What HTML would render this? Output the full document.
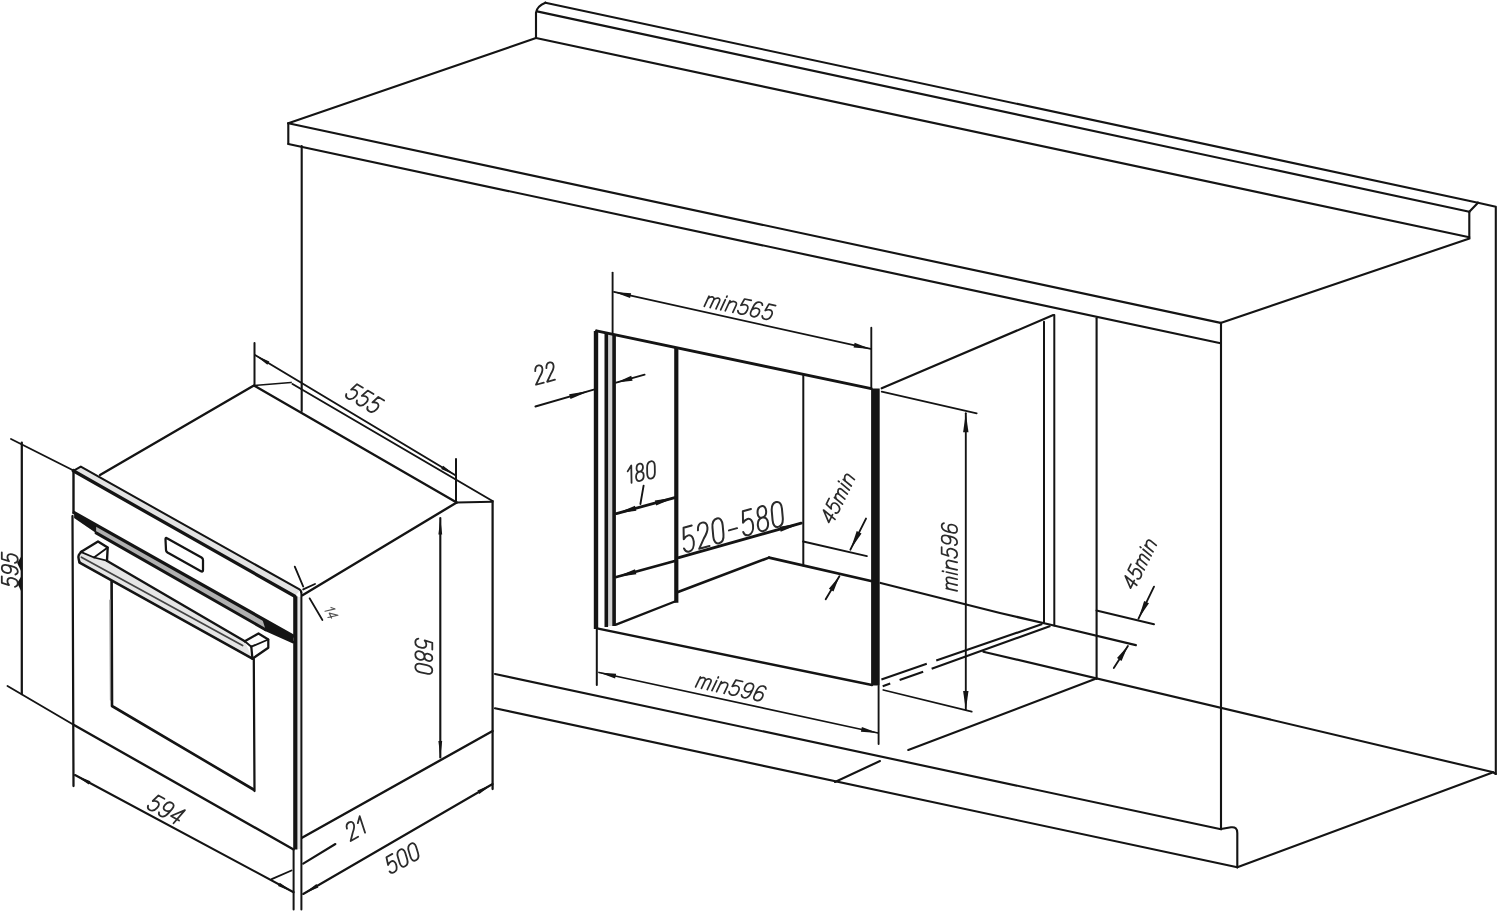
<!DOCTYPE html>
<html><head><meta charset="utf-8"><title>Built-in oven installation dimensions</title>
<style>
html,body{margin:0;padding:0;background:#fff;}
body{width:1500px;height:913px;overflow:hidden;font-family:"Liberation Sans",sans-serif;}
svg{display:block;filter:blur(0.65px);}
</style></head><body>
<svg width="1500" height="913" viewBox="0 0 1500 913" stroke-linecap="round" stroke-linejoin="round" font-family="Liberation Sans, sans-serif">
<line x1="545.4" y1="2.7" x2="1478" y2="202.7" stroke="#141414" stroke-width="2.12" />
<path d="M536 38 L536 12.7 Q537 6 545.4 2.7" stroke="#141414" stroke-width="2.12" fill="none" />
<line x1="537" y1="11.4" x2="1469.3" y2="211.7" stroke="#141414" stroke-width="2.12" />
<line x1="1469.3" y1="211.7" x2="1478" y2="202.7" stroke="#141414" stroke-width="2.12" />
<line x1="1469.3" y1="211.7" x2="1469.3" y2="237.3" stroke="#141414" stroke-width="2.12" />
<line x1="536" y1="38" x2="1469.3" y2="237.3" stroke="#141414" stroke-width="2.12" />
<path d="M1478 202.7 L1495.8 206.7 L1495.8 774" stroke="#141414" stroke-width="2.12" fill="none" />
<line x1="536" y1="38" x2="288.3" y2="123.3" stroke="#141414" stroke-width="2.12" />
<line x1="288.3" y1="123.3" x2="288.3" y2="144" stroke="#141414" stroke-width="2.12" />
<line x1="288.3" y1="123.3" x2="1220.6" y2="322.9" stroke="#141414" stroke-width="2.12" />
<line x1="288.3" y1="144" x2="1220.6" y2="343.2" stroke="#141414" stroke-width="2.12" />
<line x1="1220.6" y1="322.9" x2="1469.5" y2="238.5" stroke="#141414" stroke-width="2.12" />
<line x1="301.7" y1="146" x2="301.7" y2="411" stroke="#141414" stroke-width="2.12" />
<line x1="1221" y1="322.9" x2="1221" y2="829" stroke="#141414" stroke-width="2.12" />
<line x1="495" y1="674" x2="1221" y2="829.3" stroke="#141414" stroke-width="2.12" />
<line x1="495" y1="708.3" x2="1237.3" y2="867.3" stroke="#141414" stroke-width="2.12" />
<path d="M1221 829 L1231 827.3 Q1237.3 826.5 1237.3 833 L1237.3 867.3" stroke="#141414" stroke-width="2.12" fill="none" />
<path d="M1237.3 867.3 L1493.3 772.3 L1495.8 774" stroke="#141414" stroke-width="2.12" fill="none" />
<line x1="983.3" y1="651.7" x2="1493.3" y2="772.3" stroke="#141414" stroke-width="2.12" />
<line x1="1095" y1="679" x2="908.3" y2="750" stroke="#141414" stroke-width="2.12" />
<line x1="835" y1="782" x2="880" y2="761" stroke="#141414" stroke-width="2.0" />
<line x1="612.6" y1="272.6" x2="612.6" y2="333" stroke="#141414" stroke-width="1.88" />
<rect x="606" y="333" width="8.5" height="293" fill="#d2d2d2"/>
<line x1="596" y1="331" x2="596" y2="629" stroke="#141414" stroke-width="4.4" stroke-linecap="butt"/>
<line x1="606.3" y1="333" x2="606.3" y2="627" stroke="#141414" stroke-width="3.6" stroke-linecap="butt"/>
<line x1="614.1" y1="334" x2="614.1" y2="626" stroke="#141414" stroke-width="3.6" stroke-linecap="butt"/>
<line x1="596.5" y1="330.8" x2="871.3" y2="388.6" stroke="#141414" stroke-width="2.88" />
<line x1="871.3" y1="327.7" x2="871.3" y2="388" stroke="#141414" stroke-width="1.88" />
<line x1="875.4" y1="388.6" x2="875.4" y2="685.5" stroke="#141414" stroke-width="8.6" stroke-linecap="butt"/>
<line x1="881.7" y1="388.3" x2="1053.3" y2="315" stroke="#141414" stroke-width="2.12" />
<line x1="1044" y1="321.7" x2="1044" y2="623" stroke="#141414" stroke-width="2.0" />
<line x1="1054.3" y1="315" x2="1054.3" y2="625.5" stroke="#141414" stroke-width="2.0" />
<line x1="1096.6" y1="318.3" x2="1096.6" y2="679" stroke="#141414" stroke-width="2.12" />
<line x1="676.3" y1="347" x2="676.3" y2="602.7" stroke="#141414" stroke-width="4.2" stroke-linecap="butt"/>
<line x1="803.3" y1="375" x2="803.3" y2="565.4" stroke="#141414" stroke-width="2.0" />
<line x1="597" y1="628.4" x2="872" y2="685" stroke="#141414" stroke-width="2.4" />
<line x1="616" y1="624.6" x2="676.2" y2="601" stroke="#141414" stroke-width="2.4" />
<line x1="678" y1="592" x2="769" y2="557.6" stroke="#141414" stroke-width="2.6" />
<line x1="769" y1="557.6" x2="871" y2="581" stroke="#141414" stroke-width="2.75" />
<path d="M880.6 583 L1000 613 L1051.7 625 L1135.8 645.2" stroke="#141414" stroke-width="2.25" fill="none" />
<line x1="881.4" y1="679.5" x2="1042.3" y2="624" stroke="#141414" stroke-width="2.12" stroke-dasharray="48 10 300 0" stroke-linecap="butt"/>
<line x1="882.7" y1="686.2" x2="1050.4" y2="626" stroke="#141414" stroke-width="2.12" stroke-dasharray="8 10 25 9 300 0" stroke-linecap="butt"/>
<line x1="596.8" y1="629" x2="596.8" y2="685" stroke="#141414" stroke-width="2.0" />
<line x1="878.6" y1="686" x2="878.6" y2="744" stroke="#141414" stroke-width="1.88" />
<line x1="599" y1="672.5" x2="878" y2="733" stroke="#141414" stroke-width="1.75" />
<polygon points="599,672.5 616.12,673.76 615.11,678.45" fill="#141414"/>
<polygon points="878,733 860.88,731.74 861.89,727.05" fill="#141414"/>
<line x1="614" y1="291.9" x2="870.7" y2="348.9" stroke="#141414" stroke-width="1.75" />
<polygon points="614,291.9 631.12,293.24 630.08,297.93" fill="#141414"/>
<polygon points="870.7,348.9 853.58,347.56 854.62,342.87" fill="#141414"/>
<line x1="965.8" y1="413.3" x2="965.8" y2="710" stroke="#141414" stroke-width="1.88" />
<polygon points="965.8,413.3 968.5,432.3 963.1,432.3" fill="#141414"/>
<polygon points="965.8,710 963.1,691.0 968.5,691.0" fill="#141414"/>
<line x1="881.7" y1="391.7" x2="976.7" y2="413.3" stroke="#141414" stroke-width="1.75" />
<line x1="883.3" y1="690" x2="971.7" y2="711.7" stroke="#141414" stroke-width="1.75" />
<line x1="535.4" y1="406.5" x2="593.7" y2="389.7" stroke="#141414" stroke-width="1.88" />
<polygon points="590,390.8 570.51,399.01 569.13,394.2" fill="#141414"/>
<line x1="616.1" y1="382.7" x2="644.6" y2="374.7" stroke="#141414" stroke-width="1.88" />
<polygon points="616.5,382.6 631.23,375.86 632.58,380.68" fill="#141414"/>
<line x1="616.4" y1="513.6" x2="674.8" y2="497.6" stroke="#141414" stroke-width="2.75" />
<line x1="616.4" y1="577" x2="674.8" y2="561" stroke="#141414" stroke-width="2.75" />
<line x1="643.6" y1="485.6" x2="640.4" y2="504" stroke="#141414" stroke-width="1.88" />
<polygon points="616.4,513.6 635.0,505.81 636.38,510.82" fill="#141414"/>
<polygon points="674.8,497.6 656.2,505.39 654.82,500.38" fill="#141414"/>
<polygon points="616.4,577 635.0,569.21 636.38,574.22" fill="#141414"/>
<line x1="678.8" y1="557.6" x2="801.2" y2="523.2" stroke="#141414" stroke-width="2.88" />
<polygon points="801.2,523.2 780.72,531.66 779.32,526.65" fill="#141414"/>
<line x1="803.2" y1="541.5" x2="866.9" y2="556.1" stroke="#141414" stroke-width="2.0" />
<line x1="866" y1="518.6" x2="850.4" y2="549.7" stroke="#141414" stroke-width="1.88" />
<polygon points="850.6,549.3 856.71,531.11 861.53,533.53" fill="#141414"/>
<line x1="825.7" y1="599.2" x2="839.4" y2="576.3" stroke="#141414" stroke-width="1.88" />
<polygon points="839.4,576.3 833.5,591.42 828.87,588.64" fill="#141414"/>
<line x1="1096.5" y1="610.5" x2="1154" y2="624.2" stroke="#141414" stroke-width="2.0" />
<line x1="1154" y1="586.7" x2="1138.5" y2="618.7" stroke="#141414" stroke-width="1.88" />
<polygon points="1138.7,618.3 1144.11,600.92 1148.97,603.28" fill="#141414"/>
<line x1="1113.8" y1="668" x2="1127.9" y2="646.1" stroke="#141414" stroke-width="1.88" />
<polygon points="1127.9,646.1 1121.51,661.01 1116.97,658.09" fill="#141414"/>
<line x1="100" y1="475" x2="253" y2="386" stroke="#141414" stroke-width="2.38" />
<line x1="254" y1="385.5" x2="456.7" y2="502.5" stroke="#141414" stroke-width="2.38" />
<line x1="292.5" y1="384" x2="492.5" y2="501" stroke="#141414" stroke-width="2.0" />
<line x1="254" y1="385.5" x2="291" y2="382.5" stroke="#141414" stroke-width="1.75" />
<line x1="302.5" y1="595.2" x2="456.7" y2="502.5" stroke="#141414" stroke-width="2.38" />
<line x1="456.7" y1="502.5" x2="492.5" y2="501.7" stroke="#141414" stroke-width="1.88" />
<line x1="492.6" y1="501" x2="492.6" y2="789" stroke="#141414" stroke-width="2.25" />
<line x1="302" y1="837.7" x2="492.6" y2="731" stroke="#141414" stroke-width="2.38" />
<path d="M80.8 466.7 L300.5 590 L294.8 596.3 L73.3 470.8 Z" stroke="#141414" stroke-width="0" fill="#e3e3e3" />
<path d="M80.8 466.7 L299.5 589.4 Q301.2 590.4 301.2 592.4" stroke="#141414" stroke-width="2.0" fill="none" />
<line x1="73.3" y1="470.8" x2="294.8" y2="596.3" stroke="#141414" stroke-width="3.3" />
<line x1="73.3" y1="470.8" x2="80.8" y2="466.7" stroke="#141414" stroke-width="2.0" />
<line x1="73.5" y1="470" x2="73.5" y2="513" stroke="#141414" stroke-width="2.38" />
<path d="M74.2 512.3 L293 635.7 L293 642.3 L265.6 629.7 L96.1 532.9 L74.2 518 Z" stroke="#141414" stroke-width="0" fill="#b0b0b0" />
<path d="M74.2 512.3 L96.1 524.7 L96.1 532.9 L74.2 518 Z" stroke="#141414" stroke-width="0" fill="#141414" />
<path d="M262 618.2 L293 635.7 L293 642.3 L265.6 629.7 Z" stroke="#141414" stroke-width="0" fill="#141414" />
<line x1="74.2" y1="512.6" x2="293" y2="635.9" stroke="#141414" stroke-width="3.3" />
<line x1="96.1" y1="532.9" x2="265.6" y2="629.7" stroke="#141414" stroke-width="3.0" />
<line x1="265.6" y1="629.7" x2="293" y2="642" stroke="#141414" stroke-width="2.75" />
<rect x="295.3" y="597" width="6" height="252" fill="#e6e6e6"/>
<line x1="295.3" y1="596.3" x2="295.3" y2="849.5" stroke="#141414" stroke-width="4.2" stroke-linecap="butt"/>
<line x1="301.4" y1="592" x2="301.4" y2="909.5" stroke="#141414" stroke-width="2.0" />
<line x1="293.6" y1="849.5" x2="293.6" y2="909.5" stroke="#141414" stroke-width="2.0" />
<line x1="72.5" y1="516" x2="73.5" y2="786" stroke="#141414" stroke-width="2.25" />
<line x1="74" y1="725" x2="293.6" y2="849.5" stroke="#141414" stroke-width="2.38" />
<path d="M111.6 581.5 L112 706 L253.5 789.5" stroke="#141414" stroke-width="2.62" fill="none" />
<line x1="253.8" y1="659" x2="254.5" y2="791" stroke="#141414" stroke-width="2.25" />
<line x1="110" y1="600" x2="110.5" y2="700" stroke="#888" stroke-width="1.25" />
<path d="M166.5 538 L201.5 557.5 Q203 558.5 203 560 L203 570 Q203 572.5 200.5 571 L167.5 552.5 Q166 551.5 166 550 L165.5 539.5 Q165.5 537.3 166.5 538 Z" stroke="#141414" stroke-width="2.25" fill="none" />
<path d="M106.8 560.7 L244.8 641.2 L252.4 658.7 L79.6 562.4 L78.6 557 L81.4 552 Z" stroke="#141414" stroke-width="0" fill="#e6e6e6" />
<line x1="106.8" y1="560.7" x2="244.8" y2="641.2" stroke="#141414" stroke-width="2.38" />
<line x1="81.4" y1="557.2" x2="242.6" y2="645.6" stroke="#444" stroke-width="1.75" />
<line x1="79.6" y1="562.6" x2="252.4" y2="658.7" stroke="#141414" stroke-width="2.62" />
<path d="M81.4 551.8 Q77.6 555 78.6 558.5 Q79 561.5 79.8 562.6" stroke="#141414" stroke-width="2.38" fill="none" />
<path d="M80.8 552 L98 541.4 L107.7 547.5 L107 560.5" stroke="#141414" stroke-width="2.38" fill="#fff" />
<path d="M81.4 552.2 L94 557.5 L107.7 547.5" stroke="#141414" stroke-width="1.88" fill="none" />
<path d="M94 557.5 L106.8 560.7" stroke="#141414" stroke-width="1.75" fill="none" />
<path d="M244.8 641.2 L258.5 633.5 L268.3 639.5 L268.3 647.8 L252.4 658.7 L251.3 646.7" stroke="#141414" stroke-width="2.25" fill="#fff" />
<path d="M251.3 646.7 L268.3 639.5" stroke="#141414" stroke-width="1.88" fill="none" />
<path d="M244.8 641.2 L251.3 646.7" stroke="#141414" stroke-width="1.88" fill="none" />
<line x1="21.8" y1="442.5" x2="21.8" y2="694" stroke="#141414" stroke-width="2.25" />
<path d="M21.5 556 L17.2 563 L21.5 572 Z" stroke="#141414" stroke-width="0" fill="#141414" />
<path d="M21.5 576 L17.2 583 L21.5 592 Z" stroke="#141414" stroke-width="0" fill="#141414" />
<line x1="11" y1="439" x2="72.5" y2="470" stroke="#141414" stroke-width="1.88" />
<line x1="7.5" y1="686" x2="74" y2="725" stroke="#141414" stroke-width="1.88" />
<line x1="75" y1="775" x2="293.6" y2="892.2" stroke="#141414" stroke-width="2.12" />
<line x1="271.7" y1="879.2" x2="291.5" y2="870.5" stroke="#141414" stroke-width="1.88" />
<line x1="303.2" y1="894" x2="492.6" y2="784" stroke="#141414" stroke-width="2.12" />
<line x1="303.2" y1="863.7" x2="335.4" y2="844" stroke="#141414" stroke-width="2.12" />
<line x1="440.3" y1="518" x2="440.3" y2="757.5" stroke="#141414" stroke-width="2.12" />
<line x1="255" y1="355" x2="455" y2="475" stroke="#141414" stroke-width="2.0" />
<line x1="254.5" y1="343" x2="254.5" y2="385" stroke="#141414" stroke-width="2.0" />
<line x1="456" y1="459" x2="456" y2="502.5" stroke="#141414" stroke-width="2.0" />
<polygon points="255.5,355.3 269.34,361.39 267.38,364.65" fill="#141414"/>
<polygon points="455,475 441.16,468.91 443.12,465.65" fill="#141414"/>
<polygon points="75.5,775.3 90.5,781.18 88.7,784.53" fill="#141414"/>
<polygon points="293,891.9 278.0,886.01 279.8,882.66" fill="#141414"/>
<polygon points="303.6,893.8 316.48,884.12 318.39,887.41" fill="#141414"/>
<polygon points="492.2,784.2 479.32,793.88 477.41,790.59" fill="#141414"/>
<polygon points="440.3,518.5 442.2,534.5 438.4,534.5" fill="#141414"/>
<polygon points="440.3,757 438.4,741.0 442.2,741.0" fill="#141414"/>
<line x1="294.8" y1="566.7" x2="303.2" y2="586.5" stroke="#141414" stroke-width="1.88" />
<line x1="303.2" y1="589.4" x2="315" y2="584" stroke="#141414" stroke-width="1.88" />
<line x1="309.6" y1="598.3" x2="322.4" y2="620" stroke="#141414" stroke-width="1.75" />
<g transform="translate(364.4 398.5) rotate(31) scale(1.7000 1.7000) skewX(-12) translate(-10.300 -5)" fill="none" stroke="#2b2b2b" stroke-width="1.8"><path transform="translate(0.000 0)" vector-effect="non-scaling-stroke" d="M5.2 0 L1.2 0 L0.8 4.5 C1.5 3.8 2.3 3.5 3.1 3.5 C4.6 3.5 5.5 4.8 5.5 6.6 C5.5 8.6 4.5 10 3 10 C1.8 10 0.9 9.3 0.5 8.2"/><path transform="translate(7.300 0)" vector-effect="non-scaling-stroke" d="M5.2 0 L1.2 0 L0.8 4.5 C1.5 3.8 2.3 3.5 3.1 3.5 C4.6 3.5 5.5 4.8 5.5 6.6 C5.5 8.6 4.5 10 3 10 C1.8 10 0.9 9.3 0.5 8.2"/><path transform="translate(14.600 0)" vector-effect="non-scaling-stroke" d="M5.2 0 L1.2 0 L0.8 4.5 C1.5 3.8 2.3 3.5 3.1 3.5 C4.6 3.5 5.5 4.8 5.5 6.6 C5.5 8.6 4.5 10 3 10 C1.8 10 0.9 9.3 0.5 8.2"/></g>
<g transform="translate(9.8 569.7) rotate(-90) scale(1.6320 1.6000) skewX(-12) translate(-10.300 -5)" fill="none" stroke="#2b2b2b" stroke-width="1.8"><path transform="translate(0.000 0)" vector-effect="non-scaling-stroke" d="M5.2 0 L1.2 0 L0.8 4.5 C1.5 3.8 2.3 3.5 3.1 3.5 C4.6 3.5 5.5 4.8 5.5 6.6 C5.5 8.6 4.5 10 3 10 C1.8 10 0.9 9.3 0.5 8.2"/><path transform="translate(7.300 0)" vector-effect="non-scaling-stroke" d="M0.8 8.5 C1.2 9.5 2 10 2.9 10 C4.5 10 5.4 8.5 5.4 6 L5.4 3 C5.4 1.2 4.5 0 3 0 C1.5 0 0.6 1.2 0.6 3 C0.6 4.8 1.5 5.8 3 5.8 C4.2 5.8 5.1 5 5.4 4"/><path transform="translate(14.600 0)" vector-effect="non-scaling-stroke" d="M5.2 0 L1.2 0 L0.8 4.5 C1.5 3.8 2.3 3.5 3.1 3.5 C4.6 3.5 5.5 4.8 5.5 6.6 C5.5 8.6 4.5 10 3 10 C1.8 10 0.9 9.3 0.5 8.2"/></g>
<g transform="translate(166.3 809.5) rotate(29) scale(1.7000 1.7000) skewX(-12) translate(-10.300 -5)" fill="none" stroke="#2b2b2b" stroke-width="1.8"><path transform="translate(0.000 0)" vector-effect="non-scaling-stroke" d="M5.2 0 L1.2 0 L0.8 4.5 C1.5 3.8 2.3 3.5 3.1 3.5 C4.6 3.5 5.5 4.8 5.5 6.6 C5.5 8.6 4.5 10 3 10 C1.8 10 0.9 9.3 0.5 8.2"/><path transform="translate(7.300 0)" vector-effect="non-scaling-stroke" d="M0.8 8.5 C1.2 9.5 2 10 2.9 10 C4.5 10 5.4 8.5 5.4 6 L5.4 3 C5.4 1.2 4.5 0 3 0 C1.5 0 0.6 1.2 0.6 3 C0.6 4.8 1.5 5.8 3 5.8 C4.2 5.8 5.1 5 5.4 4"/><path transform="translate(14.600 0)" vector-effect="non-scaling-stroke" d="M4.4 10 L4.4 0 L0.4 7 L5.8 7"/></g>
<g transform="translate(355.7 828.3) rotate(-30) scale(1.7000 1.7000) skewX(-12) translate(-5.750 -5)" fill="none" stroke="#2b2b2b" stroke-width="1.8"><path transform="translate(0.000 0)" vector-effect="non-scaling-stroke" d="M0.7 2.6 C0.7 0.9 1.7 0 3 0 C4.4 0 5.4 0.9 5.4 2.5 C5.4 4 4.6 5 3.2 6.4 L0.5 10 L5.6 10"/><path transform="translate(7.300 0)" vector-effect="non-scaling-stroke" d="M0.6 3 L3 0 L3 10"/></g>
<g transform="translate(402.5 858) rotate(-29) scale(1.7000 1.7000) skewX(-12) translate(-10.300 -5)" fill="none" stroke="#2b2b2b" stroke-width="1.8"><path transform="translate(0.000 0)" vector-effect="non-scaling-stroke" d="M5.2 0 L1.2 0 L0.8 4.5 C1.5 3.8 2.3 3.5 3.1 3.5 C4.6 3.5 5.5 4.8 5.5 6.6 C5.5 8.6 4.5 10 3 10 C1.8 10 0.9 9.3 0.5 8.2"/><path transform="translate(7.300 0)" vector-effect="non-scaling-stroke" d="M3 0 C1.3 0 0.5 1.5 0.5 3.2 L0.5 6.8 C0.5 8.5 1.3 10 3 10 C4.7 10 5.5 8.5 5.5 6.8 L5.5 3.2 C5.5 1.5 4.7 0 3 0 Z"/><path transform="translate(14.600 0)" vector-effect="non-scaling-stroke" d="M3 0 C1.3 0 0.5 1.5 0.5 3.2 L0.5 6.8 C0.5 8.5 1.3 10 3 10 C4.7 10 5.5 8.5 5.5 6.8 L5.5 3.2 C5.5 1.5 4.7 0 3 0 Z"/></g>
<g transform="translate(423.8 656.4) rotate(90) scale(1.7000 1.7000) skewX(-12) translate(-10.300 -5)" fill="none" stroke="#2b2b2b" stroke-width="1.8"><path transform="translate(0.000 0)" vector-effect="non-scaling-stroke" d="M5.2 0 L1.2 0 L0.8 4.5 C1.5 3.8 2.3 3.5 3.1 3.5 C4.6 3.5 5.5 4.8 5.5 6.6 C5.5 8.6 4.5 10 3 10 C1.8 10 0.9 9.3 0.5 8.2"/><path transform="translate(7.300 0)" vector-effect="non-scaling-stroke" d="M3 4.6 C1.7 4.6 0.9 3.7 0.9 2.4 C0.9 1 1.7 0 3 0 C4.3 0 5.1 1 5.1 2.4 C5.1 3.7 4.3 4.6 3 4.6 C1.5 4.6 0.5 5.7 0.5 7.3 C0.5 8.9 1.5 10 3 10 C4.5 10 5.5 8.9 5.5 7.3 C5.5 5.7 4.5 4.6 3 4.6 Z"/><path transform="translate(14.600 0)" vector-effect="non-scaling-stroke" d="M3 0 C1.3 0 0.5 1.5 0.5 3.2 L0.5 6.8 C0.5 8.5 1.3 10 3 10 C4.7 10 5.5 8.5 5.5 6.8 L5.5 3.2 C5.5 1.5 4.7 0 3 0 Z"/></g>
<g transform="translate(331.2 612.6) rotate(65) scale(1.0000 1.0000) skewX(-12) translate(-5.750 -5)" fill="none" stroke="#555" stroke-width="1.2"><path transform="translate(0.000 0)" vector-effect="non-scaling-stroke" d="M0.6 3 L3 0 L3 10"/><path transform="translate(5.500 0)" vector-effect="non-scaling-stroke" d="M4.4 10 L4.4 0 L0.4 7 L5.8 7"/></g>
<g transform="translate(544.7 373.1) rotate(-15) scale(1.5840 1.8000) skewX(-12) translate(-6.650 -5)" fill="none" stroke="#2b2b2b" stroke-width="1.8"><path transform="translate(0.000 0)" vector-effect="non-scaling-stroke" d="M0.7 2.6 C0.7 0.9 1.7 0 3 0 C4.4 0 5.4 0.9 5.4 2.5 C5.4 4 4.6 5 3.2 6.4 L0.5 10 L5.6 10"/><path transform="translate(7.300 0)" vector-effect="non-scaling-stroke" d="M0.7 2.6 C0.7 0.9 1.7 0 3 0 C4.4 0 5.4 0.9 5.4 2.5 C5.4 4 4.6 5 3.2 6.4 L0.5 10 L5.6 10"/></g>
<g transform="translate(641.2 472) rotate(-12) scale(1.5640 1.7000) skewX(-12) translate(-9.400 -5)" fill="none" stroke="#2b2b2b" stroke-width="1.8"><path transform="translate(0.000 0)" vector-effect="non-scaling-stroke" d="M0.6 3 L3 0 L3 10"/><path transform="translate(5.500 0)" vector-effect="non-scaling-stroke" d="M3 4.6 C1.7 4.6 0.9 3.7 0.9 2.4 C0.9 1 1.7 0 3 0 C4.3 0 5.1 1 5.1 2.4 C5.1 3.7 4.3 4.6 3 4.6 C1.5 4.6 0.5 5.7 0.5 7.3 C0.5 8.9 1.5 10 3 10 C4.5 10 5.5 8.9 5.5 7.3 C5.5 5.7 4.5 4.6 3 4.6 Z"/><path transform="translate(12.800 0)" vector-effect="non-scaling-stroke" d="M3 0 C1.3 0 0.5 1.5 0.5 3.2 L0.5 6.8 C0.5 8.5 1.3 10 3 10 C4.7 10 5.5 8.5 5.5 6.8 L5.5 3.2 C5.5 1.5 4.7 0 3 0 Z"/></g>
<g transform="translate(732.8 526.8) rotate(-15.5) scale(2.1070 2.4500) skewX(-12) translate(-24.900 -5)" fill="none" stroke="#2b2b2b" stroke-width="2.0"><path transform="translate(0.000 0)" vector-effect="non-scaling-stroke" d="M5.2 0 L1.2 0 L0.8 4.5 C1.5 3.8 2.3 3.5 3.1 3.5 C4.6 3.5 5.5 4.8 5.5 6.6 C5.5 8.6 4.5 10 3 10 C1.8 10 0.9 9.3 0.5 8.2"/><path transform="translate(7.300 0)" vector-effect="non-scaling-stroke" d="M0.7 2.6 C0.7 0.9 1.7 0 3 0 C4.4 0 5.4 0.9 5.4 2.5 C5.4 4 4.6 5 3.2 6.4 L0.5 10 L5.6 10"/><path transform="translate(14.600 0)" vector-effect="non-scaling-stroke" d="M3 0 C1.3 0 0.5 1.5 0.5 3.2 L0.5 6.8 C0.5 8.5 1.3 10 3 10 C4.7 10 5.5 8.5 5.5 6.8 L5.5 3.2 C5.5 1.5 4.7 0 3 0 Z"/><path transform="translate(21.900 0)" vector-effect="non-scaling-stroke" d="M1 6 L5 6"/><path transform="translate(29.200 0)" vector-effect="non-scaling-stroke" d="M5.2 0 L1.2 0 L0.8 4.5 C1.5 3.8 2.3 3.5 3.1 3.5 C4.6 3.5 5.5 4.8 5.5 6.6 C5.5 8.6 4.5 10 3 10 C1.8 10 0.9 9.3 0.5 8.2"/><path transform="translate(36.500 0)" vector-effect="non-scaling-stroke" d="M3 4.6 C1.7 4.6 0.9 3.7 0.9 2.4 C0.9 1 1.7 0 3 0 C4.3 0 5.1 1 5.1 2.4 C5.1 3.7 4.3 4.6 3 4.6 C1.5 4.6 0.5 5.7 0.5 7.3 C0.5 8.9 1.5 10 3 10 C4.5 10 5.5 8.9 5.5 7.3 C5.5 5.7 4.5 4.6 3 4.6 Z"/><path transform="translate(43.800 0)" vector-effect="non-scaling-stroke" d="M3 0 C1.3 0 0.5 1.5 0.5 3.2 L0.5 6.8 C0.5 8.5 1.3 10 3 10 C4.7 10 5.5 8.5 5.5 6.8 L5.5 3.2 C5.5 1.5 4.7 0 3 0 Z"/></g>
<g transform="translate(837.6 497.6) rotate(-64) scale(1.5950 1.4500) skewX(-12) translate(-16.350 -5)" fill="none" stroke="#2b2b2b" stroke-width="1.7"><path transform="translate(0.000 0)" vector-effect="non-scaling-stroke" d="M4.4 10 L4.4 0 L0.4 7 L5.8 7"/><path transform="translate(7.300 0)" vector-effect="non-scaling-stroke" d="M5.2 0 L1.2 0 L0.8 4.5 C1.5 3.8 2.3 3.5 3.1 3.5 C4.6 3.5 5.5 4.8 5.5 6.6 C5.5 8.6 4.5 10 3 10 C1.8 10 0.9 9.3 0.5 8.2"/><path transform="translate(14.600 0)" vector-effect="non-scaling-stroke" d="M0.5 10 L0.5 3 M0.5 4.6 C1 3.5 1.8 3 2.5 3 C3.5 3 4 3.8 4 5 L4 10 M4 4.6 C4.5 3.5 5.3 3 6 3 C7 3 7.5 3.8 7.5 5 L7.5 10"/><path transform="translate(23.900 0)" vector-effect="non-scaling-stroke" d="M1 3 L1 10 M1 0.5 L1 1.2"/><path transform="translate(27.200 0)" vector-effect="non-scaling-stroke" d="M0.5 10 L0.5 3 M0.5 4.8 C1.2 3.6 2 3 3 3 C4.3 3 5 3.9 5 5.2 L5 10"/></g>
<g transform="translate(1139.4 563.4) rotate(-64) scale(1.5950 1.4500) skewX(-12) translate(-16.350 -5)" fill="none" stroke="#2b2b2b" stroke-width="1.7"><path transform="translate(0.000 0)" vector-effect="non-scaling-stroke" d="M4.4 10 L4.4 0 L0.4 7 L5.8 7"/><path transform="translate(7.300 0)" vector-effect="non-scaling-stroke" d="M5.2 0 L1.2 0 L0.8 4.5 C1.5 3.8 2.3 3.5 3.1 3.5 C4.6 3.5 5.5 4.8 5.5 6.6 C5.5 8.6 4.5 10 3 10 C1.8 10 0.9 9.3 0.5 8.2"/><path transform="translate(14.600 0)" vector-effect="non-scaling-stroke" d="M0.5 10 L0.5 3 M0.5 4.6 C1 3.5 1.8 3 2.5 3 C3.5 3 4 3.8 4 5 L4 10 M4 4.6 C4.5 3.5 5.3 3 6 3 C7 3 7.5 3.8 7.5 5 L7.5 10"/><path transform="translate(23.900 0)" vector-effect="non-scaling-stroke" d="M1 3 L1 10 M1 0.5 L1 1.2"/><path transform="translate(27.200 0)" vector-effect="non-scaling-stroke" d="M0.5 10 L0.5 3 M0.5 4.8 C1.2 3.6 2 3 3 3 C4.3 3 5 3.9 5 5.2 L5 10"/></g>
<g transform="translate(740.2 306) rotate(12) scale(1.7050 1.5500) skewX(-12) translate(-20.000 -5)" fill="none" stroke="#2b2b2b" stroke-width="1.7"><path transform="translate(0.000 0)" vector-effect="non-scaling-stroke" d="M0.5 10 L0.5 3 M0.5 4.6 C1 3.5 1.8 3 2.5 3 C3.5 3 4 3.8 4 5 L4 10 M4 4.6 C4.5 3.5 5.3 3 6 3 C7 3 7.5 3.8 7.5 5 L7.5 10"/><path transform="translate(9.300 0)" vector-effect="non-scaling-stroke" d="M1 3 L1 10 M1 0.5 L1 1.2"/><path transform="translate(12.600 0)" vector-effect="non-scaling-stroke" d="M0.5 10 L0.5 3 M0.5 4.8 C1.2 3.6 2 3 3 3 C4.3 3 5 3.9 5 5.2 L5 10"/><path transform="translate(19.400 0)" vector-effect="non-scaling-stroke" d="M5.2 0 L1.2 0 L0.8 4.5 C1.5 3.8 2.3 3.5 3.1 3.5 C4.6 3.5 5.5 4.8 5.5 6.6 C5.5 8.6 4.5 10 3 10 C1.8 10 0.9 9.3 0.5 8.2"/><path transform="translate(26.700 0)" vector-effect="non-scaling-stroke" d="M5.2 1.5 C4.8 0.5 4 0 3.1 0 C1.5 0 0.6 1.5 0.6 4 L0.6 7 C0.6 8.8 1.5 10 3 10 C4.5 10 5.4 8.8 5.4 7 C5.4 5.2 4.5 4.2 3 4.2 C1.8 4.2 0.9 5 0.6 6"/><path transform="translate(34.000 0)" vector-effect="non-scaling-stroke" d="M5.2 0 L1.2 0 L0.8 4.5 C1.5 3.8 2.3 3.5 3.1 3.5 C4.6 3.5 5.5 4.8 5.5 6.6 C5.5 8.6 4.5 10 3 10 C1.8 10 0.9 9.3 0.5 8.2"/></g>
<g transform="translate(731.5 687) rotate(12.5) scale(1.7050 1.5500) skewX(-12) translate(-20.000 -5)" fill="none" stroke="#2b2b2b" stroke-width="1.7"><path transform="translate(0.000 0)" vector-effect="non-scaling-stroke" d="M0.5 10 L0.5 3 M0.5 4.6 C1 3.5 1.8 3 2.5 3 C3.5 3 4 3.8 4 5 L4 10 M4 4.6 C4.5 3.5 5.3 3 6 3 C7 3 7.5 3.8 7.5 5 L7.5 10"/><path transform="translate(9.300 0)" vector-effect="non-scaling-stroke" d="M1 3 L1 10 M1 0.5 L1 1.2"/><path transform="translate(12.600 0)" vector-effect="non-scaling-stroke" d="M0.5 10 L0.5 3 M0.5 4.8 C1.2 3.6 2 3 3 3 C4.3 3 5 3.9 5 5.2 L5 10"/><path transform="translate(19.400 0)" vector-effect="non-scaling-stroke" d="M5.2 0 L1.2 0 L0.8 4.5 C1.5 3.8 2.3 3.5 3.1 3.5 C4.6 3.5 5.5 4.8 5.5 6.6 C5.5 8.6 4.5 10 3 10 C1.8 10 0.9 9.3 0.5 8.2"/><path transform="translate(26.700 0)" vector-effect="non-scaling-stroke" d="M0.8 8.5 C1.2 9.5 2 10 2.9 10 C4.5 10 5.4 8.5 5.4 6 L5.4 3 C5.4 1.2 4.5 0 3 0 C1.5 0 0.6 1.2 0.6 3 C0.6 4.8 1.5 5.8 3 5.8 C4.2 5.8 5.1 5 5.4 4"/><path transform="translate(34.000 0)" vector-effect="non-scaling-stroke" d="M5.2 1.5 C4.8 0.5 4 0 3.1 0 C1.5 0 0.6 1.5 0.6 4 L0.6 7 C0.6 8.8 1.5 10 3 10 C4.5 10 5.4 8.8 5.4 7 C5.4 5.2 4.5 4.2 3 4.2 C1.8 4.2 0.9 5 0.6 6"/></g>
<g transform="translate(949.4 556.5) rotate(-90) scale(1.6740 1.5500) skewX(-12) translate(-20.000 -5)" fill="none" stroke="#2b2b2b" stroke-width="1.7"><path transform="translate(0.000 0)" vector-effect="non-scaling-stroke" d="M0.5 10 L0.5 3 M0.5 4.6 C1 3.5 1.8 3 2.5 3 C3.5 3 4 3.8 4 5 L4 10 M4 4.6 C4.5 3.5 5.3 3 6 3 C7 3 7.5 3.8 7.5 5 L7.5 10"/><path transform="translate(9.300 0)" vector-effect="non-scaling-stroke" d="M1 3 L1 10 M1 0.5 L1 1.2"/><path transform="translate(12.600 0)" vector-effect="non-scaling-stroke" d="M0.5 10 L0.5 3 M0.5 4.8 C1.2 3.6 2 3 3 3 C4.3 3 5 3.9 5 5.2 L5 10"/><path transform="translate(19.400 0)" vector-effect="non-scaling-stroke" d="M5.2 0 L1.2 0 L0.8 4.5 C1.5 3.8 2.3 3.5 3.1 3.5 C4.6 3.5 5.5 4.8 5.5 6.6 C5.5 8.6 4.5 10 3 10 C1.8 10 0.9 9.3 0.5 8.2"/><path transform="translate(26.700 0)" vector-effect="non-scaling-stroke" d="M0.8 8.5 C1.2 9.5 2 10 2.9 10 C4.5 10 5.4 8.5 5.4 6 L5.4 3 C5.4 1.2 4.5 0 3 0 C1.5 0 0.6 1.2 0.6 3 C0.6 4.8 1.5 5.8 3 5.8 C4.2 5.8 5.1 5 5.4 4"/><path transform="translate(34.000 0)" vector-effect="non-scaling-stroke" d="M5.2 1.5 C4.8 0.5 4 0 3.1 0 C1.5 0 0.6 1.5 0.6 4 L0.6 7 C0.6 8.8 1.5 10 3 10 C4.5 10 5.4 8.8 5.4 7 C5.4 5.2 4.5 4.2 3 4.2 C1.8 4.2 0.9 5 0.6 6"/></g>
</svg>
</body></html>
